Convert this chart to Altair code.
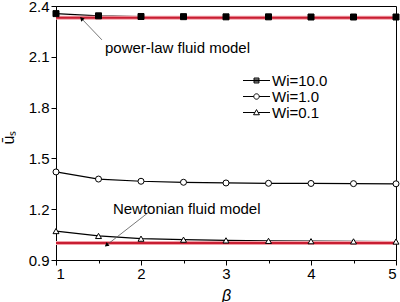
import altair as alt
import pandas as pd

beta = [1.0, 1.5, 2.0, 2.5, 3.0, 3.5, 4.0, 4.5, 5.0]
wi10 = [2.355, 2.342, 2.338, 2.337, 2.336, 2.336, 2.335, 2.335, 2.335]
wi1 = [1.420, 1.378, 1.365, 1.359, 1.355, 1.353, 1.352, 1.351, 1.350]
wi01 = [1.071, 1.042, 1.026, 1.020, 1.016, 1.013, 1.011, 1.010, 1.009]
series_names = ["Wi=10.0", "Wi=1.0", "Wi=0.1"]

model_names = ["power-law fluid model", "Newtonian fluid model"]
model_values = [2.33, 1.0]
# annotation text anchor (beta, u) and arrow from -> to
label_beta = [1.576, 1.67]
label_u = [2.152, 1.201]
arrow_from_beta = [1.54, 2.08]
arrow_from_u = [2.20, 1.178]
arrow_to_beta = [1.306, 1.60]
arrow_to_u = [2.323, 0.990]
arrow_angle = [316, 232]

FONT = "Liberation Sans"

rows = []
for name, vals in zip(series_names, [wi10, wi1, wi01]):
    for b, v in zip(beta, vals):
        rows.append({"series": name, "series_s": name, "series_l": name, "beta": b, "u": v})
df = pd.DataFrame(rows)

models = pd.DataFrame({
    "model": model_names,
    "u": model_values,
    "b0": [beta[0]] * 2,
    "b1": [beta[-1]] * 2,
    "lb": label_beta,
    "lu": label_u,
    "fb": arrow_from_beta,
    "fu": arrow_from_u,
    "tb": arrow_to_beta,
    "tu": arrow_to_u,
    "ang": arrow_angle,
})

xscale = alt.Scale(domain=[1, 5], nice=False, zero=False)
yscale = alt.Scale(domain=[0.9, 2.4], nice=False, zero=False)

xvals = [1 + 0.5 * i for i in range(9)]
yvals = [round(0.9 + 0.15 * i, 2) for i in range(11)]

xaxis = alt.Axis(
    values=xvals,
    labelExpr="datum.value % 1 === 0 ? format(datum.value, 'd') : ''",
    title="β",
    titleFontStyle="italic",
    titleFont=FONT,
    titleFontSize=16,
    titleFontWeight="normal",
    titleY=35,
    titleBaseline="middle",
    labelFont=FONT,
    labelFontSize=15,
    labelColor="black",
    labelPadding=1,
    tickColor="black",
    domainColor="black",
    tickSize={"condition": {"test": "datum.value % 1 === 0", "value": 5}, "value": 3},
    grid=False,
)
yaxis = alt.Axis(
    values=yvals,
    labelExpr="round(datum.value * 10) % 3 === 0 ? format(datum.value, '.1f') : ''",
    title="ūₛ",
    titleFont=FONT,
    titleFontSize=16,
    titleFontWeight="normal",
    titleX=-48,
    titleY=131,
    titleAlign="center",
    titleBaseline="middle",
    titleAngle=270,
    labelFont=FONT,
    labelFontSize=15,
    labelColor="black",
    labelPadding=2,
    tickColor="black",
    domainColor="black",
    tickSize={"condition": {"test": "round(datum.value * 10) % 3 === 0", "value": 5}, "value": 3},
    grid=False,
)

# legend glyphs: a line segment with the marker in its middle (unit = symbol radius)
LEG_SQUARE = ("M-3,0H3M-0.55,-0.55H0.55V0.55H-0.55Z"
              "M-0.55,-0.3H0.55M-0.55,0.3H0.55")
LEG_CIRCLE = "M-3,0H-0.6M0.6,0H3M0.6,0A0.6,0.6 0 1,1 -0.6,0A0.6,0.6 0 1,1 0.6,0Z"
LEG_TRIANGLE = "M-3,0H-0.36M0.36,0H3M0,-0.65L0.65,0.5H-0.65Z"

base = alt.Chart(df)

lines = base.mark_line(strokeWidth=1.2, color="black").encode(
    x=alt.X("beta:Q", scale=xscale, axis=xaxis),
    y=alt.Y("u:Q", scale=yscale, axis=yaxis),
    detail="series:N",
)

mbase = alt.Chart(models)
halo = mbase.mark_rule(color="#f2a0a8", strokeWidth=4).encode(
    x=alt.X("b0:Q", scale=xscale), x2="b1:Q", y=alt.Y("u:Q", scale=yscale)
)
redline = mbase.mark_rule(color="#c81e32", strokeWidth=2).encode(
    x=alt.X("b0:Q", scale=xscale), x2="b1:Q", y=alt.Y("u:Q", scale=yscale)
)

points = base.mark_point(filled=True, strokeWidth=1, stroke="black", opacity=1, size=36).encode(
    x=alt.X("beta:Q", scale=xscale),
    y=alt.Y("u:Q", scale=yscale),
    shape=alt.Shape(
        "series_s:N",
        scale=alt.Scale(domain=series_names, range=["square", "circle", "triangle-up"]),
        legend=None,
    ),
    fill=alt.Fill(
        "series_s:N",
        scale=alt.Scale(domain=series_names, range=["black", "white", "white"]),
        legend=None,
    ),
)

# legend-only layer (no marks drawn: every row filtered out)
legend_layer = base.transform_filter("false").mark_point(
    filled=False, color="black", strokeWidth=1, opacity=1
).encode(
    x=alt.X("beta:Q", scale=xscale),
    y=alt.Y("u:Q", scale=yscale),
    shape=alt.Shape(
        "series_l:N",
        scale=alt.Scale(domain=series_names, range=[LEG_SQUARE, LEG_CIRCLE, LEG_TRIANGLE]),
        legend=alt.Legend(
            orient="none", legendX=193, legendY=67, title=None,
            symbolSize=81, symbolStrokeWidth=1, symbolStrokeColor="black",
            labelFont=FONT, labelFontSize=15, labelColor="black",
            labelOffset=8, rowPadding=-1, padding=0,
        ),
    ),
)

arrows = mbase.mark_rule(color="#555555", strokeWidth=0.8).encode(
    x=alt.X("fb:Q", scale=xscale), y=alt.Y("fu:Q", scale=yscale),
    x2="tb:Q", y2="tu:Q",
)
heads = mbase.mark_point(shape="triangle", filled=True, color="black", size=22, opacity=1).encode(
    x=alt.X("tb:Q", scale=xscale), y=alt.Y("tu:Q", scale=yscale),
    angle=alt.Angle("ang:Q", scale=None),
)
labels = mbase.mark_text(align="left", baseline="middle", font=FONT, fontSize=15, color="black").encode(
    x=alt.X("lb:Q", scale=xscale), y=alt.Y("lu:Q", scale=yscale), text="model:N"
)

chart = alt.layer(lines, halo, redline, points, legend_layer, arrows, heads, labels).resolve_scale(
    shape="independent"
).properties(
    width=340, height=254,
    padding={"left": 56, "top": 6, "right": 4, "bottom": 42},
    autosize=alt.AutoSizeParams(type="none"),
    background="white",
).configure_view(stroke="black", strokeWidth=1)

chart.save("out.html", embed_options={"renderer": "svg", "actions": False})
